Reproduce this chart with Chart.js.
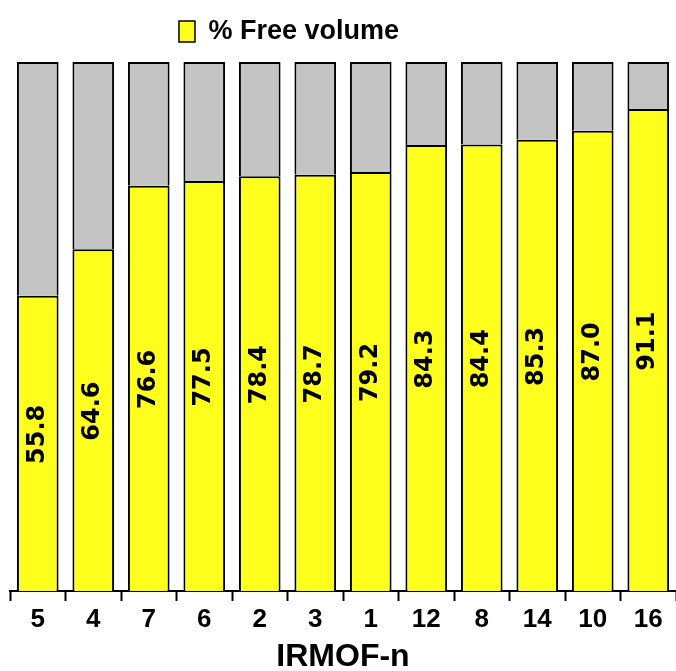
<!DOCTYPE html>
<html lang="en">

<head>
    <meta charset="UTF-8">
    <meta name="viewport" content="width=device-width, initial-scale=1.0">
    <title>IRMOF free volume</title>
    <script src="https://cdn.jsdelivr.net/npm/chart.js"></script>
    <style>
        html, body { margin: 0; padding: 0; background: #fff; }
        #wrap { width: 676px; height: 671px; }
    </style>
</head>

<body>
    <div id="wrap"><canvas id="chart"></canvas></div>
    <script>
        const irmofs = ['5', '4', '7', '6', '2', '3', '1', '12', '8', '14', '10', '16'];
        const freeVolume = [55.8, 64.6, 76.6, 77.5, 78.4, 78.7, 79.2, 84.3, 84.4, 85.3, 87.0, 91.1];
        const occupied = [44.2, 35.4, 23.4, 22.5, 21.6, 21.3, 20.8, 15.7, 15.6, 14.7, 13.0, 8.9];

        const sans = '"Liberation Sans", Arial, sans-serif';

        // value written up the middle of each yellow bar
        const barText = {
            id: 'barText',
            afterDatasetsDraw(chart) {
                const ctx = chart.ctx;
                const meta = chart.getDatasetMeta(0);
                ctx.save();
                ctx.fillStyle = '#000';
                ctx.font = 'bold 24px "DejaVu Sans"';
                ctx.textAlign = 'center';
                ctx.textBaseline = 'middle';
                meta.data.forEach((bar, i) => {
                    const cy = (bar.y + bar.base) / 2 - 9;
                    ctx.save();
                    ctx.translate(bar.x, cy);
                    ctx.rotate(-Math.PI / 2);
                    ctx.fillText(freeVolume[i].toFixed(1), 0, 0);
                    ctx.restore();
                });
                ctx.restore();
            }
        };

        // legend sits left of centre and a bit further from the bars in the original
        const legendTweak = {
            id: 'legendTweak',
            beforeLayout(chart) {
                const lg = chart.legend;
                if (lg && !lg._tweaked) {
                    const fit = lg.fit.bind(lg);
                    lg.fit = function () { fit(); this.height += 7; };
                    lg._tweaked = true;
                }
            },
            afterLayout(chart) {
                chart.legend.left -= 108;
            }
        };

        new Chart(document.getElementById('chart'), {
            type: 'bar',
            data: {
                labels: irmofs,
                datasets: [{
                    label: '% Free volume',
                    data: freeVolume,
                    backgroundColor: '#ffff1e',
                    borderColor: '#000',
                    borderWidth: { top: 2, left: 2, right: 2, bottom: 0 },
                    borderSkipped: false
                }, {
                    label: 'rest',
                    data: occupied,
                    backgroundColor: '#c4c4c4',
                    borderColor: '#000',
                    borderWidth: { top: 2, left: 2, right: 2, bottom: 0 },
                    borderSkipped: false
                }]
            },
            options: {
                responsive: true,
                maintainAspectRatio: false,
                animation: false,
                datasets: { bar: { barPercentage: 0.75, categoryPercentage: 1 } },
                layout: { padding: { left: 10, right: 0, top: 3, bottom: 0 } },
                plugins: {
                    tooltip: { enabled: false },
                    legend: {
                        position: 'top',
                        labels: {
                            filter: item => item.datasetIndex === 0,
                            boxWidth: 16,
                            boxHeight: 21,
                            padding: 15,
                            color: '#000',
                            font: { family: sans, size: 27, weight: 'bold' }
                        }
                    }
                },
                scales: {
                    x: {
                        stacked: true,
                        grid: {
                            offset: true,
                            drawOnChartArea: false,
                            drawTicks: true,
                            tickLength: 10,
                            tickWidth: 2,
                            tickColor: '#000'
                        },
                        border: { display: true, color: '#000', width: 2 },
                        ticks: {
                            color: '#000',
                            padding: 6,
                            font: { family: sans, size: 26, weight: 'bold', lineHeight: 1 }
                        },
                        title: {
                            display: true,
                            text: 'IRMOF-n',
                            color: '#000',
                            padding: { top: 2, bottom: -2 },
                            font: { family: sans, size: 32, weight: 'bold', lineHeight: 1 }
                        }
                    },
                    y: {
                        stacked: true,
                        display: false,
                        min: 0,
                        max: 100
                    }
                }
            },
            plugins: [barText, legendTweak]
        });
    </script>
</body>

</html>
